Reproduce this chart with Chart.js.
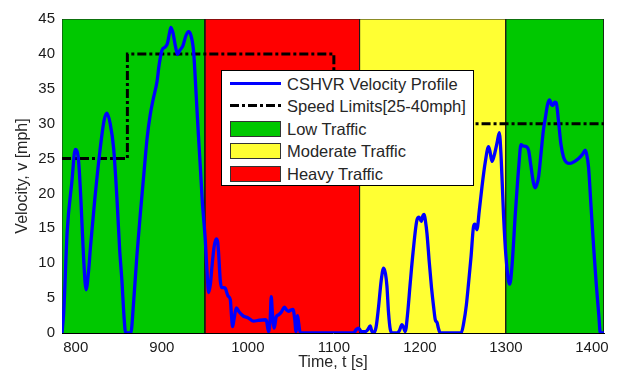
<!DOCTYPE html>
<html>
<head>
<meta charset="utf-8">
<script src="https://cdn.jsdelivr.net/npm/chart.js@4.4.0/dist/chart.umd.min.js"></script>
<style>
    body { margin: 0; background: #fff; }
    #wrap { position: relative; width: 618px; height: 373px; }
    #legend {
        position: absolute; left: 221px; top: 70px; width: 251px; height: 114px;
        border: 1px solid #000; background: #fff;
        font-family: "Liberation Sans", Arial, sans-serif; font-size: 16.5px; color: #262626;
    }
    .row { position: absolute; left: 8px; height: 22px; line-height: 22px; white-space: nowrap; }
    .row span.txt { position: absolute; left: 57px; top: 0; }
    .sample { position: absolute; left: 0; width: 51px; }
    .line { top: 9px; height: 3px; background: #0000ff; }
    .dash { top: 9px; height: 3px;
        background: repeating-linear-gradient(90deg, #000 0 9px, transparent 9px 12px, #000 12px 15px, transparent 15px 18px); }
    .patch { top: 3px; height: 14px; border: 1px solid #333; width: 49px; }
</style>
</head>
<body>
<div id="wrap">
    <canvas id="chart" width="618" height="373"></canvas>
    <div id="legend">
        <div class="row" style="top:2px"><div class="sample line"></div><span class="txt">CSHVR Velocity Profile</span></div>
        <div class="row" style="top:24px"><div class="sample dash"></div><span class="txt">Speed Limits[25-40mph]</span></div>
        <div class="row" style="top:47px"><div class="sample patch" style="background:#00c800"></div><span class="txt">Low Traffic</span></div>
        <div class="row" style="top:69px"><div class="sample patch" style="background:#ffff33"></div><span class="txt">Moderate Traffic</span></div>
        <div class="row" style="top:92px"><div class="sample patch" style="background:#ff0000"></div><span class="txt">Heavy Traffic</span></div>
    </div>
</div>
<script>
// time [s] and velocity [mph]
var times = [784, 786, 790, 795.5, 799.4, 803, 806, 809, 812, 815, 817, 822, 828, 833, 836.3, 840, 844, 848, 851, 853.7, 856, 858,
    864, 867, 871, 875, 880, 883, 886.6, 890, 894.4, 897, 900.2, 904, 906.5, 909, 910.6, 913, 916, 918.3, 921, 924.6, 928, 931, 933.5,
    937, 940, 942.5, 944.7, 947, 950.5, 952.5, 954.4, 956.5, 958.3, 961, 963.3, 965, 966, 968, 969.5, 972, 973.8, 977, 979.6, 981,
    982.3, 984, 986.6, 990, 995, 1000, 1006.7, 1012, 1020.3, 1022, 1024, 1026, 1027.2, 1028.5, 1030.7, 1033, 1035.7, 1039, 1042.4,
    1045, 1047.4, 1050, 1052.5, 1054.5, 1056, 1057.8, 1059, 1061, 1123, 1126, 1128.7, 1132, 1136.5, 1139, 1142.3, 1144, 1146, 1149,
    1152, 1155, 1157.8, 1160, 1161.7, 1163.5, 1165.6, 1168, 1173.3, 1176, 1179.2, 1181, 1183, 1185.5, 1188.8, 1192, 1196.6, 1199,
    1201.6, 1203.5, 1205, 1206.5, 1208.2, 1211, 1213.5, 1215.9, 1217.9, 1220, 1221.5, 1223.7, 1248, 1251, 1254, 1256.6, 1259.5,
    1262.4, 1264, 1266.3, 1269, 1272.2, 1276, 1279.8, 1281.5, 1283.8, 1286.5, 1289.6, 1292.3, 1294.5, 1297.3, 1300, 1303, 1304.5,
    1307, 1311, 1315, 1317.5, 1320, 1324, 1326.3, 1329, 1332, 1334, 1336, 1338, 1341, 1343.5, 1345.8, 1348.5, 1350.8, 1353, 1354.7,
    1356.5, 1358.5, 1361, 1364, 1367, 1370, 1374.8, 1380, 1384.5, 1389, 1392.3, 1394, 1396, 1399, 1401.9, 1405, 1408, 1409.7, 1414];
var velocity = [0, 3, 14.5, 21.7, 26.3, 25, 19, 11, 6.2, 9, 12.2, 19, 26, 30.5, 31.5, 30, 26.5, 19, 12, 7.4, 2.5, 0,
    0, 4, 11, 17, 24, 28, 31.3, 33.5, 36, 38.5, 40.5, 41, 41.5, 43, 43.8, 43, 41, 39.9, 40.5, 41.2, 42.6, 43.2, 42.8,
    40.3, 34, 28.5, 24, 19, 13.4, 9, 5.8, 7, 9.5, 12.5, 13.5, 13, 11.5, 7.5, 6.5, 6.5, 6.4, 5.3, 4.8, 2.5,
    0.9, 2, 3.6, 3, 2.4, 2.2, 1.7, 1.8, 1.9, 1.6, 0.2, 2, 5.2, 3, 0.7, 2.3, 2.6, 3, 3.7,
    3.3, 3.1, 3.3, 3.4, 2, 0.2, 2.5, 1.5, 0, 0, 0.5, 0.7, 0.2, 0.2, 0.4, 1, 0.3, 0, 0.8,
    3.8, 7.5, 9.3, 8.5, 6.7, 3, 0.5, 0, 0, 0.3, 1.2, 0.8, 0.2, 2.5, 7.2, 11.5, 16.2, 16.6,
    16, 16.8, 17, 16, 14.3, 10, 6.5, 3.8, 1.9, 1.5, 0.7, 0, 0, 1.5, 4, 7.2, 11,
    15.3, 15.6, 14.8, 17.5, 21, 24.5, 26.7, 26, 24.6, 25.5, 27.2, 28.7, 25, 16.7, 11, 7.5, 7,
    9.5, 17.2, 24, 27, 26.8, 26.7, 26.2, 24, 21.5, 20.8, 21.3, 22.4, 26, 29, 30.8, 32.8, 33.4, 32.7, 32.6,
    33.1, 33, 30.5, 27, 25.2, 24.5, 24.3, 24.6, 25, 25.6, 26.2, 25.5, 23.8, 18, 12.4, 7, 2.5, 0, 0];

var limitTimes = [784, 860, 860, 1100, 1100, 1414];
var limitSpeeds = [25, 25, 40, 40, 30, 30];

// traffic zones [start, end]
var lowZones = [[784, 950], [1300, 1414]];
var heavyZones = [[950, 1130]];
var moderateZones = [[1130, 1300]];

var xTicks = [800, 900, 1000, 1100, 1200, 1300, 1400];
var yMin = 0, yMax = 45;

function zonePoints(z) {
    return [{x: z[0], y: 0}, {x: z[0], y: yMax}, {x: z[1], y: yMax}, {x: z[1], y: 0}];
}

function zoneDataset(z, colour) {
    return {
        data: zonePoints(z),
        borderColor: '#1a1a1a',
        borderWidth: 1,
        backgroundColor: colour,
        fill: 'origin',
        pointRadius: 0,
        tension: 0,
        order: 5
    };
}

var datasets = [];
datasets.push({
    label: 'CSHVR Velocity Profile',
    data: times.map(function(t, i) { return {x: t, y: velocity[i]}; }),
    borderColor: '#0000ff',
    borderWidth: 3.3,
    pointRadius: 0,
    cubicInterpolationMode: 'monotone',
    fill: false,
    order: 0
});
datasets.push({
    label: 'Speed Limits[25-40mph]',
    data: limitTimes.map(function(t, i) { return {x: t, y: limitSpeeds[i]}; }),
    borderColor: '#000',
    borderWidth: 3,
    borderDash: [9, 3, 3, 3],
    pointRadius: 0,
    tension: 0,
    fill: false,
    order: 1
});
lowZones.forEach(function(z) { datasets.push(zoneDataset(z, '#00c800')); });
moderateZones.forEach(function(z) { datasets.push(zoneDataset(z, '#ffff33')); });
heavyZones.forEach(function(z) { datasets.push(zoneDataset(z, '#ff0000')); });

var font = {family: '"Liberation Sans", Arial, sans-serif', size: 15};

new Chart(document.getElementById('chart').getContext('2d'), {
    type: 'line',
    data: {datasets: datasets},
    options: {
        responsive: false,
        animation: false,
        devicePixelRatio: 1,
        layout: {padding: {top: 19, right: 14, left: 0, bottom: 0}},
        plugins: {legend: {display: false}, tooltip: {enabled: false}},
        scales: {
            x: {
                type: 'linear',
                min: 784,
                max: 1414,
                grid: {display: false, drawTicks: false},
                border: {display: true, color: '#000', width: 1},
                afterBuildTicks: function(axis) { axis.ticks = xTicks.map(function(v) { return {value: v}; }); },
                afterFit: function(scale) { scale.height = 40; },
                ticks: {font: font, color: '#1a1a1a', padding: 6, maxRotation: 0,
                    callback: function(v) { return String(v); }},
                title: {display: true, text: 'Time, t [s]', font: {family: font.family, size: 16}, color: '#262626', padding: {top: 0, bottom: 1}}
            },
            y: {
                min: yMin,
                max: yMax,
                grid: {display: false, drawTicks: false},
                border: {display: false},
                afterFit: function(scale) { scale.width = 62; },
                ticks: {stepSize: 5, font: font, color: '#1a1a1a', padding: 7,
                    callback: function(v) { return String(v); }},
                title: {display: true, text: 'Velocity, v [mph]', font: {family: font.family, size: 16}, color: '#262626', padding: {top: 13, bottom: 0}}
            }
        }
    }
});
</script>
</body>
</html>
